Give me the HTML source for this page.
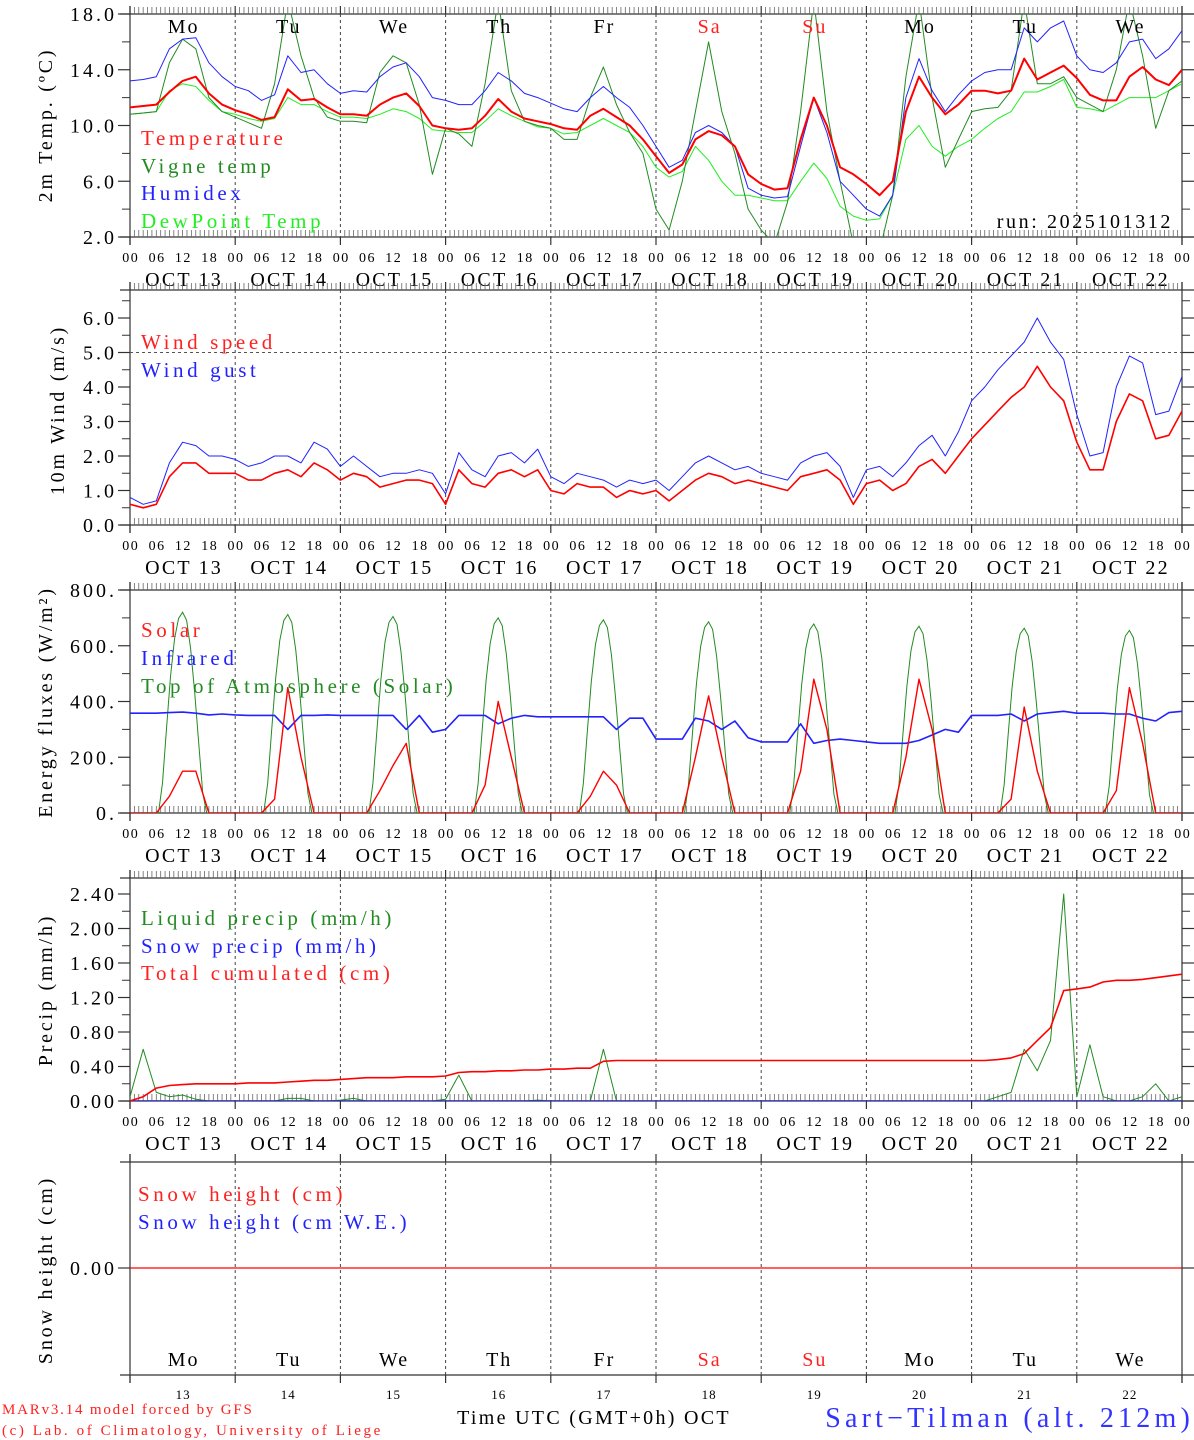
<!DOCTYPE html>
<html><head><meta charset="utf-8"><style>
body{margin:0;background:#fff;}
svg{display:block;font-family:"Liberation Serif",serif;}
</style></head><body>
<svg id="chart" width="1194" height="1440" viewBox="0 0 1194 1440" xmlns="http://www.w3.org/2000/svg"></svg>
<script>
// ---- data (3-hourly, 81 points from Oct 13 00 UTC) ----
const dayNames=["Mo","Tu","We","Th","Fr","Sa","Su","Mo","Tu","We"];
const dayNums=["13","14","15","16","17","18","19","20","21","22"];
const hourLabels=["00","06","12","18"];
const temp=[11.3,11.4,11.5,12.4,13.2,13.5,12.3,11.5, 11.1,10.8,10.4,10.6,12.6,11.8,11.9,11.3, 10.8,10.8,10.7,11.5,12.0,12.3,11.4,10.0, 9.8,9.7,9.8,10.7,11.9,11.0,10.5,10.3, 10.1,9.8,9.7,10.7,11.2,10.6,10.0,9.0, 7.8,6.6,7.2,9.0,9.6,9.3,8.5,6.5, 5.8,5.4,5.5,9.0,12.0,10.0,7.0,6.5, 5.8,5.0,6.0,11.0,13.5,12.0,10.8,11.5, 12.5,12.5,12.3,12.5,14.8,13.3,13.8,14.3, 13.4,12.2,11.8,11.8,13.5,14.2,13.3,12.9,14.0];
const vigne=[10.8,10.9,11.0,14.5,16.2,15.5,12.0,11.0, 10.6,10.2,9.8,13.0,19,15,12.0,10.6, 10.3,10.3,10.2,13.8,15.0,14.5,11.5,6.5, 9.8,9.4,8.5,13.0,19.0,12.5,10.3,10.0, 9.8,9.0,9.0,12.0,14.2,11.5,9.5,8.0, 4.0,2.5,6.0,11.0,16.0,11.0,8.0,4.0, 2.5,1.5,4.5,11.0,19,11.0,6.0,1.5, 1.0,1.0,5.0,13.5,19,12.0,7.0,9.0, 11.0,11.2,11.3,12.5,19,13.0,13.0,13.5, 12.0,11.5,11.0,14.0,19,15.0,9.8,12.5,13.2];
const humidex=[13.2,13.3,13.5,15.5,16.2,16.3,14.5,13.5, 12.8,12.5,11.8,12.2,15.0,13.8,14.0,13.0, 12.3,12.5,12.4,13.5,14.2,14.5,13.5,12.0, 11.8,11.5,11.5,12.5,13.8,13.2,12.3,12.0, 11.6,11.2,11.0,12.0,12.8,12.0,11.3,10.0, 8.5,7.0,7.5,9.5,10.0,9.5,8.5,5.5, 5.0,4.8,4.9,8.5,12.0,9.5,6.0,5.0, 4.0,3.5,5.0,12.0,14.8,12.5,11.0,12.2, 13.2,13.8,14.0,14.0,17.0,16.0,17.0,17.5, 15.0,14.0,13.8,14.5,16.0,16.2,14.8,15.5,16.8];
const dewpoint=[10.8,10.9,11.0,12.5,13.0,12.8,11.8,11.0, 10.8,10.5,10.3,10.5,12.0,11.5,11.5,11.0, 10.6,10.6,10.5,10.8,11.2,11.0,10.5,9.7, 9.6,9.5,9.5,10.3,11.2,10.7,10.3,9.9, 9.8,9.4,9.5,10.0,10.5,10.0,9.5,8.5, 7.0,6.3,6.7,8.5,7.5,6.0,5.0,5.0, 4.8,4.6,4.6,6.0,7.3,6.2,4.2,3.5, 3.2,3.3,5.0,9.0,10.0,8.5,7.8,8.5, 9.0,9.8,10.5,11.0,12.4,12.4,12.8,13.3, 11.3,11.2,11.0,11.5,12.0,12.0,12.0,12.5,13.0];
const windSpeed=[0.6,0.5,0.6,1.4,1.8,1.8,1.5,1.5, 1.5,1.3,1.3,1.5,1.6,1.4,1.8,1.6, 1.3,1.5,1.4,1.1,1.2,1.3,1.3,1.2, 0.6,1.6,1.2,1.1,1.5,1.6,1.4,1.6, 1.0,0.9,1.2,1.1,1.1,0.8,1.0,0.9, 1.0,0.7,1.0,1.3,1.5,1.4,1.2,1.3, 1.2,1.1,1.0,1.4,1.5,1.6,1.3,0.6, 1.2,1.3,1.0,1.2,1.7,1.9,1.5,2.0, 2.5,2.9,3.3,3.7,4.0,4.6,4.0,3.6, 2.4,1.6,1.6,3.0,3.8,3.6,2.5,2.6,3.3];
const windGust=[0.8,0.6,0.7,1.8,2.4,2.3,2.0,2.0, 1.9,1.7,1.8,2.0,2.0,1.8,2.4,2.2, 1.7,2.0,1.7,1.4,1.5,1.5,1.6,1.5, 0.9,2.1,1.6,1.4,2.0,2.1,1.8,2.2, 1.4,1.2,1.5,1.4,1.3,1.1,1.3,1.2, 1.3,1.0,1.4,1.8,2.0,1.8,1.6,1.7, 1.5,1.4,1.3,1.8,2.0,2.1,1.7,0.8, 1.6,1.7,1.4,1.8,2.3,2.6,2.0,2.7, 3.6,4.0,4.5,4.9,5.3,6.0,5.3,4.8, 3.2,2.0,2.1,4.0,4.9,4.7,3.2,3.3,4.3];
const solar=[0,0,0,60,150,150,0,0, 0,0,0,50,450,200,0,0, 0,0,0,80,170,250,0,0, 0,0,0,100,400,200,0,0, 0,0,0,60,150,100,0,0, 0,0,0,200,420,200,0,0, 0,0,0,150,480,300,0,0, 0,0,0,200,480,300,0,0, 0,0,0,50,380,150,0,0, 0,0,0,80,450,250,0,0,0];
const infrared=[358,358,358,360,362,358,352,355, 352,350,350,350,300,350,350,352, 350,350,350,350,350,300,350,290, 300,350,350,350,320,340,350,345, 345,345,345,345,345,300,340,340, 265,265,265,340,330,300,330,270, 255,255,255,320,250,260,265,260, 255,250,250,250,260,280,300,290, 350,350,350,355,330,355,360,365, 358,358,358,355,355,340,330,360,365];
const toaPeak=[720,712,705,700,693,686,678,670,663,655];
const toaShape=[0,0.15,0.42,0.68,0.87,0.97,1,0.96,0.82,0.6,0.35,0.1,0];
const liquid=[0.05,0.6,0.1,0.05,0.07,0.02,0,0, 0,0,0,0,0.03,0.03,0,0, 0.01,0.03,0,0,0,0,0,0, 0.02,0.3,0,0,0,0,0,0.01, 0,0,0,0,0.6,0,0,0, 0,0,0,0,0,0,0,0, 0,0,0,0,0,0,0,0, 0,0,0,0,0,0,0,0, 0,0,0.05,0.1,0.6,0.35,0.7,2.4, 0.05,0.65,0.05,0,0,0.05,0.2,0,0.05];
const cumul=[0,0.05,0.15,0.18,0.19,0.2,0.2,0.2, 0.2,0.21,0.21,0.21,0.22,0.23,0.24,0.24, 0.25,0.26,0.27,0.27,0.27,0.28,0.28,0.28, 0.29,0.33,0.34,0.34,0.35,0.35,0.36,0.36, 0.37,0.37,0.38,0.38,0.46,0.47,0.47,0.47, 0.47,0.47,0.47,0.47,0.47,0.47,0.47,0.47, 0.47,0.47,0.47,0.47,0.47,0.47,0.47,0.47, 0.47,0.47,0.47,0.47,0.47,0.47,0.47,0.47, 0.47,0.47,0.48,0.5,0.55,0.7,0.85,1.28, 1.3,1.32,1.38,1.4,1.4,1.41,1.43,1.45,1.47];
const snowPrecip=new Array(81).fill(0);
const snowHeight=new Array(81).fill(0);

const NS="http://www.w3.org/2000/svg";
const svg=document.getElementById('chart');
const X0=130,X1=1182;
function xh(h){return X0+h/240*(X1-X0);}
function el(tag,attrs,parent){const e=document.createElementNS(NS,tag);for(const k in attrs)e.setAttribute(k,attrs[k]);(parent||svg).appendChild(e);return e;}
function txt(s,x,y,size,fill,anchor,parent,ls){const t=el('text',{x:x,y:y,'font-size':size,fill:fill||'#000','text-anchor':anchor||'start','letter-spacing':ls||0},parent);t.textContent=s;return t;}

const panels=[
 {id:'temp',top:14,bottom:237,min:2,max:18},
 {id:'wind',top:290,bottom:525,min:0,max:235/34.5},
 {id:'flux',top:590,bottom:813,min:0,max:800},
 {id:'precip',top:878,bottom:1101,min:0,max:223/86.25},
 {id:'snow',top:1162,bottom:1375,min:-108/107,max:1}
];
panels.forEach(p=>{p.y=v=>p.bottom-(v-p.min)/(p.max-p.min)*(p.bottom-p.top);});

function drawFrame(p,idx,full){
  const g=el('g',{});
  
  
  el('line',{x1:X0,y1:p.top-8,x2:X0,y2:p.bottom+8,stroke:'#333','stroke-width':1.2},g);
  el('line',{x1:X1,y1:p.top-8,x2:X1,y2:p.bottom+8,stroke:'#333','stroke-width':1.2},g);
  el('line',{x1:120,y1:p.top,x2:1194,y2:p.top,stroke:'#333','stroke-width':1.2},g);
  el('line',{x1:120,y1:p.bottom,x2:1194,y2:p.bottom,stroke:'#333','stroke-width':1.2},g);
  for(let d=1;d<10;d++){
    el('line',{x1:xh(d*24),y1:p.top,x2:xh(d*24),y2:p.bottom,stroke:'#444','stroke-width':1,'stroke-dasharray':'3,3'},g);
  }
  for(let d=0;d<=10;d++){
    el('line',{x1:xh(d*24),y1:p.top-8,x2:xh(d*24),y2:p.top,stroke:'#333','stroke-width':1.2},g);
    el('line',{x1:xh(d*24),y1:p.bottom,x2:xh(d*24),y2:p.bottom+8,stroke:'#333','stroke-width':1.2},g);
  }
  if(full){
    for(let h=1;h<240;h++){
      if(h%24===0)continue;
      el('line',{x1:xh(h),y1:p.top-7,x2:xh(h),y2:p.top,stroke:'#666','stroke-width':0.8},g);
      el('line',{x1:xh(h),y1:p.bottom-7,x2:xh(h),y2:p.bottom,stroke:'#666','stroke-width':0.8},g);
    }
    for(let d=0;d<10;d++){
      hourLabels.forEach((hl,i)=>txt(hl,xh(d*24+i*6)+0.8,p.bottom+25,14,'#000','middle',g,1.5));
      txt('OCT  '+dayNums[d],xh(d*24+12)+1.5,p.bottom+49,20,'#000','middle',g,2.2);
    }
    txt('00',xh(240)+0.8,p.bottom+25,14,'#000','middle',g,1.5);
  }
  return g;
}
function yTicks(p,majors,minors,fmt){
  const g=el('g',{});
  
  
  majors.forEach(v=>{const y=p.y(v);
    el('line',{x1:118,y1:y,x2:X0,y2:y,stroke:'#333','stroke-width':1.2},g);
    el('line',{x1:X1,y1:y,x2:1194,y2:y,stroke:'#333','stroke-width':1.2},g);
    txt(fmt(v),117,y+7,20,'#000','end',g,3);});
  minors.forEach(v=>{const y=p.y(v);
    el('line',{x1:122,y1:y,x2:X0,y2:y,stroke:'#333','stroke-width':1},g);
    el('line',{x1:X1,y1:y,x2:1190,y2:y,stroke:'#333','stroke-width':1},g);});
}
function ylabel(s,x,y){const t=txt(s,x,y,20,'#000','middle',null,2.8);t.setAttribute('transform','rotate(-90 '+x+' '+y+')');return t;}
function clip(p,i){const c=el('clipPath',{id:'clip'+i});el('rect',{x:X0,y:p.top,width:X1-X0,height:p.bottom-p.top},c);}
function series(p,i,arr,color,w,name,step){
  step=step||3;
  const pts=arr.map((v,k)=>xh(k*step).toFixed(1)+','+p.y(v).toFixed(1)).join(' ');
  const l=el('polyline',{points:pts,fill:'none',stroke:color,'stroke-width':w,'clip-path':'url(#clip'+i+')','stroke-linejoin':'round'});
  
  
  return l;
}
function legend(s,x,y,color){const t=txt(s,x,y,21,color,'start',null,3.6);}

panels.forEach((p,i)=>clip(p,i));

// Panel 1
let P=panels[0];
drawFrame(P,0,true);
yTicks(P,[18,14,10,6,2],[16,12,8,4],v=>v.toFixed(1));
ylabel('2m Temp. (ºC)',52,125);
series(P,0,dewpoint,'#22ee22',1,'dewpoint-line');
series(P,0,vigne,'#228b22',1,'vigne-temp-line');
series(P,0,humidex,'#2222ff',1,'humidex-line');
series(P,0,temp,'#ff0000',2,'temperature-line');
legend('Temperature',141,145,'#ff2020');
legend('Vigne temp',141,173,'#228b22');
legend('Humidex',141,200,'#2222ff');
legend('DewPoint Temp',141,228,'#22ee22');
txt('run: 2025101312',1173,228,20,'#000','end',null,2.6);
dayNames.forEach((d,k)=>{const t=txt(d,xh(k*24+12)+1,33,20,(k===5||k===6)?'#ff2020':'#000','middle',null,2);});

// Panel 2
P=panels[1];
drawFrame(P,1,true);
yTicks(P,[0,1,2,3,4,5,6],[0.5,1.5,2.5,3.5,4.5,5.5,6.5],v=>v.toFixed(1));
ylabel('10m Wind (m/s)',64,410);
el('line',{x1:X0,y1:P.y(5),x2:X1,y2:P.y(5),stroke:'#555','stroke-width':1,'stroke-dasharray':'3,3'});
series(P,1,windGust,'#2222ff',1,'wind-gust-line');
series(P,1,windSpeed,'#ff0000',1.6,'wind-speed-line');
legend('Wind speed',141,349,'#ff2020');
legend('Wind gust',141,377,'#2222ff');

// Panel 3
P=panels[2];
drawFrame(P,2,true);
yTicks(P,[0,200,400,600,800],[100,300,500,700],v=>v===0?'0.':v+'.');
ylabel('Energy fluxes (W/m²)',52,702);
(function(){
  let pts=[xh(0)+','+P.y(0)];
  for(let d=0;d<10;d++){toaShape.forEach((s,k)=>{pts.push(xh(d*24+6.5+k*11/12).toFixed(1)+','+P.y(toaPeak[d]*s).toFixed(1));});}
  pts.push(xh(240)+','+P.y(0));
  const l=el('polyline',{points:pts.join(' '),fill:'none',stroke:'#228b22','stroke-width':1,'clip-path':'url(#clip2)'});
  
  
})();
series(P,2,infrared,'#2222ff',1.6,'infrared-line');
series(P,2,solar,'#ff0000',1.4,'solar-line');
legend('Solar',141,637,'#ff2020');
legend('Infrared',141,665,'#2222ff');
legend('Top of Atmosphere (Solar)',141,693,'#228b22');

// Panel 4
P=panels[3];
drawFrame(P,3,true);
yTicks(P,[0,0.4,0.8,1.2,1.6,2.0,2.4],[0.2,0.6,1.0,1.4,1.8,2.2],v=>v.toFixed(2));
ylabel('Precip (mm/h)',52,990);
series(P,3,liquid,'#228b22',1,'liquid-precip-line');
series(P,3,snowPrecip,'#2222ff',1.6,'snow-precip-line');
series(P,3,cumul,'#ff0000',1.6,'cumulated-precip-line');
legend('Liquid precip (mm/h)',141,925,'#228b22');
legend('Snow precip (mm/h)',141,953,'#2222ff');
legend('Total cumulated (cm)',141,980,'#ff2020');

// Panel 5
P=panels[4];
drawFrame(P,4,false);
yTicks(P,[0],[],v=>v.toFixed(2));
ylabel('Snow height (cm)',52,1270);
series(P,4,snowHeight,'#ff0000',1.2,'snow-height-line');
legend('Snow height (cm)',138,1201,'#ff2020');
legend('Snow height (cm W.E.)',138,1229,'#2222ff');
dayNames.forEach((d,k)=>{const t=txt(d,xh(k*24+12)+1,1366,20,(k===5||k===6)?'#ff2020':'#000','middle',null,2);});
dayNums.forEach((d,k)=>{const t=txt(d,xh(k*24+12)+0.5,1399,13,'#000','middle',null,1);});

// footer
txt('MARv3.14 model forced by GFS',2,1414,15,'#ff2020','start',null,1.8);
txt('(c) Lab. of Climatology, University of Liege',2,1435,15,'#ff2020','start',null,2.6);
txt('Time UTC (GMT+0h) OCT',594,1424,20,'#000','middle',null,2.3);
txt('Sart\u2212Tilman (alt. 212m)',1194,1427,28,'#3333ff','end',null,4.2);
</script>
</body></html>
